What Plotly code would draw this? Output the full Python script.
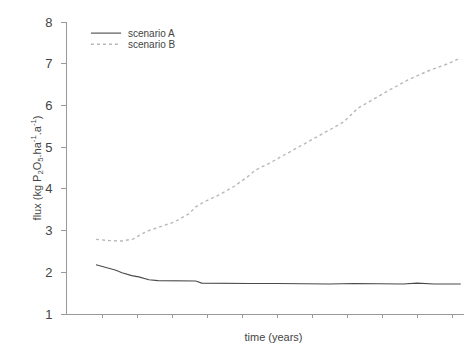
import plotly.graph_objects as go

# Scenario A (solid)
years_a = [8.3, 10, 12, 14, 15.7, 18.5, 20.5, 23.4, 26, 30, 36.8, 38.5, 45, 52, 60, 68, 75, 82, 90, 96, 100, 105, 112.5]
flux_a = [2.18, 2.14, 2.10, 2.05, 1.99, 1.92, 1.89, 1.82, 1.80, 1.80, 1.79, 1.74, 1.73, 1.73, 1.73, 1.72, 1.72, 1.73, 1.73, 1.72, 1.74, 1.72, 1.72]

# Scenario B (dotted)
years_b = [8.3, 12, 15.7, 19, 21.4, 23.4, 26.2, 30.5, 34.8, 36.8, 39, 43.3, 47.6, 51.9, 53.8, 57.5, 61.8, 66,
           71, 74.6, 79, 83.2, 87.5, 91.7, 97.4, 103, 108.8, 112.5]
flux_b = [2.79, 2.76, 2.75, 2.80, 2.92, 3.0, 3.08, 3.2, 3.4, 3.57, 3.68, 3.85, 4.05, 4.31, 4.45, 4.6, 4.8, 5.0,
          5.22, 5.4, 5.6, 5.94, 6.15, 6.35, 6.61, 6.82, 7.0, 7.14]

y_ticks = [1, 2, 3, 4, 5, 6, 7, 8]
x_ticks = [10, 20, 30, 40, 50, 60, 70, 80, 90, 100, 110]
series_names = ["scenario A", "scenario B"]

fig = go.Figure()
fig.add_trace(go.Scatter(x=years_a, y=flux_a, mode="lines", name=series_names[0],
                         line=dict(color="#4a4a4a", width=1.1)))
fig.add_trace(go.Scatter(x=years_b, y=flux_b, mode="lines", name=series_names[1],
                         line=dict(color="#b8b8b8", width=1.4, dash="dot")))

font = "Liberation Sans, Arial, sans-serif"

fig.update_layout(
    width=472, height=345,
    margin=dict(l=59, r=0, t=14, b=39),
    paper_bgcolor="white", plot_bgcolor="white",
    showlegend=False,
    font=dict(family=font, color="#444444", size=12),
    xaxis=dict(range=[0, 118], tickvals=x_ticks, showticklabels=False, ticks="outside", ticklen=3,
               tickcolor="#999999", showline=True, linecolor="#999999", linewidth=1,
               showgrid=False, zeroline=False,
               title=dict(text="time (years)", font=dict(size=11, color="#444444"), standoff=16)),
    yaxis=dict(range=[1, 8], tickvals=y_ticks, ticks="outside", ticklen=5, tickcolor="#999999",
               showline=True, linecolor="#999999", linewidth=1, showgrid=False, zeroline=False,
               tickfont=dict(size=13, color="#444444"), ticklabelstandoff=6,
               title=dict(text="flux (kg P<sub>2</sub>O<sub>5</sub>.ha<sup>-1</sup>.a<sup>-1</sup>)",
                          font=dict(size=11, color="#444444"), standoff=0)),
)

# manual legend
legend_y = [0.962, 0.924]
dashes = ["solid", "dot"]
colors = ["#4a4a4a", "#b8b8b8"]
widths = [1.1, 1.4]
for name, yy, dsh, col, w in zip(series_names, legend_y, dashes, colors, widths):
    fig.add_shape(type="line", xref="paper", yref="paper", x0=0.058, x1=0.131, y0=yy, y1=yy,
                  line=dict(color=col, width=w, dash=dsh))
    fig.add_annotation(xref="paper", yref="paper", x=0.143, y=yy, text=name, showarrow=False,
                       xanchor="left", yanchor="middle", font=dict(size=10, color="#444444"))

fig.write_html("out.html")
